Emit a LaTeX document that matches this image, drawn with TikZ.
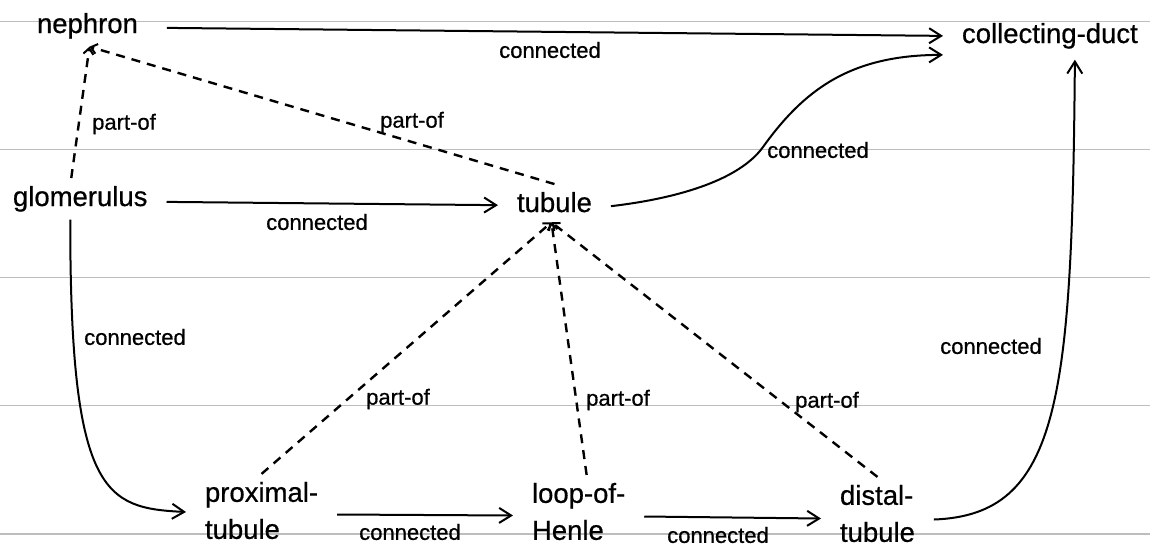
\documentclass[tikz,border=0pt]{standalone}
\usepackage{fontspec}
\setmainfont[FakeBold=0.6]{Liberation Sans}
\usetikzlibrary{arrows.meta}
\tikzset{
  concept/.style={inner xsep=19pt, inner ysep=8pt, outer sep=0pt, font=\fontsize{27.5}{37}\selectfont},
  lbl/.style={inner sep=0pt, font=\fontsize{22}{26}\selectfont},
  conn/.style={line width=2pt, -{Straight Barb[length=12pt,width=15pt,line width=2pt]}},
  partof/.style={line width=2.4pt, dash pattern=on 9pt off 7pt, -{Straight Barb[length=6pt,width=10pt,line width=2pt]}},
  ruling/.style={line width=1.6pt, draw=black!26}
}
\begin{document}
\begin{tikzpicture}[x=1pt,y=-1pt]
\useasboundingbox[fill=white] (0,0) rectangle (1150,546);
\foreach \yy in {21.5,149.5,277.5,405.5,534} \draw[ruling] (0,\yy) -- (1150,\yy);

% concepts
\node[concept, anchor=base west] (neph) at (18,33) {nephron};
\node[concept, anchor=base west] (cd) at (943,43) {collecting-duct};
\node[concept, anchor=base west] (glom) at (-6,206) {glomerulus};
\node[concept, anchor=base west] (tub) at (498,212) {tubule};
\node[concept, anchor=west, align=left] (prox) at (186,510.5) {proximal-\\tubule};
\node[concept, anchor=west, align=left] (loop) at (513,511.5) {loop-of-\\Henle};
\node[concept, anchor=west, align=left] (dist) at (821,513.5) {distal-\\tubule};

% connected relations
\draw[conn] ([xshift=10pt,yshift=-2pt]neph.east) -- (cd.west);
\draw[conn] ([yshift=-3pt]glom.east) -- ([yshift=-3pt]tub.west);
\draw[conn] ([yshift=-4pt]tub.east) .. controls (681,198) and (740,179) .. (763,147)
  .. controls (804,90) and (850,55) .. ([yshift=-19pt]cd.west);
\draw[conn] ([xshift=-10pt]glom.south) .. controls (70,495) and (105,508) .. ([yshift=-1.5pt]prox.west);
\draw[conn] ([yshift=-4pt]prox.east) -- ([yshift=-4pt]loop.west);
\draw[conn] ([yshift=-5pt]loop.east) -- ([yshift=-5pt]dist.west);
\draw[conn] ([yshift=-6pt]dist.east) .. controls (1060,515) and (1072,400) .. ([xshift=25pt,yshift=-3pt]cd.south);

% part-of relations
\draw[partof] ([xshift=-9pt]glom.north) -- ([xshift=2pt]neph.south);
\draw[partof] (tub.north) -- ([xshift=2pt]neph.south);
\draw[partof] (prox.north) -- ([xshift=-3pt,yshift=-2pt]tub.south);
\draw[partof] ([xshift=8pt]loop.north) -- ([xshift=-3pt,yshift=-2pt]tub.south);
\draw[partof] (dist.north) -- ([xshift=-3pt,yshift=-2pt]tub.south);

% labels
\node[lbl] (l1) at (550,50) {connected};
\node[lbl] (l2) at (317,222) {connected};
\node[lbl] (l3) at (818,150) {connected};
\node[lbl] (l4) at (135,337) {connected};
\node[lbl] (l5) at (410,532) {connected};
\node[lbl] (l6) at (718,535) {connected};
\node[lbl] (l7) at (991,346) {connected};
\node[lbl] (p1) at (124,124) {part-of};
\node[lbl] (p2) at (412,122) {part-of};
\node[lbl] (p3) at (398,399) {part-of};
\node[lbl] (p4) at (618,400) {part-of};
\node[lbl] (p5) at (827,402) {part-of};
\end{tikzpicture}
\end{document}
